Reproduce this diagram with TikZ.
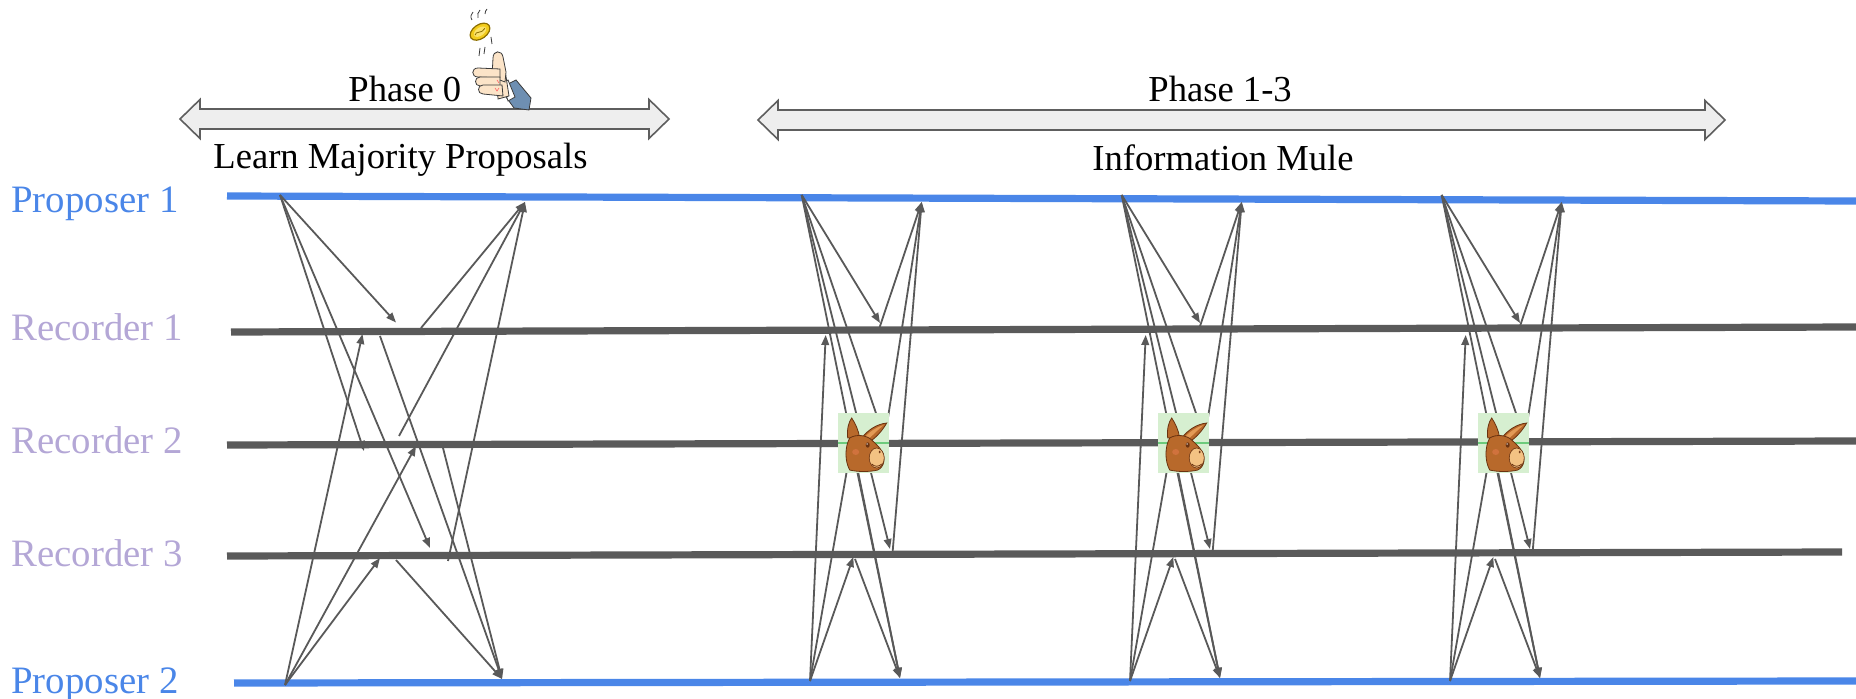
\documentclass[tikz,border=0pt]{standalone}
\usepackage{fontspec}
\setmainfont{Liberation Serif}
\usetikzlibrary{arrows.meta}

\definecolor{propblue}{HTML}{4A86E8}
\definecolor{reclav}{HTML}{B4A7D6}
\definecolor{lanegrey}{HTML}{5A5A5A}
\definecolor{msggrey}{HTML}{595959}
\definecolor{bandfill}{HTML}{EEEEEE}
\definecolor{bandedge}{HTML}{5E5E5E}
\definecolor{mulebg}{HTML}{D6EFD0}
\definecolor{muleline}{HTML}{6CCB7C}
\definecolor{mulehead}{HTML}{B8692B}
\definecolor{muledark}{HTML}{6A3210}
\definecolor{mulesnout}{HTML}{F3C283}
\definecolor{muleear}{HTML}{E39A55}
\definecolor{mulecheek}{HTML}{E0784A}
\definecolor{skin}{HTML}{FCE4C8}
\definecolor{sleeve}{HTML}{6E8FB2}
\definecolor{coingold}{HTML}{F2CC1C}
\definecolor{coinlight}{HTML}{FBE36A}
\definecolor{coinedge}{HTML}{8C6E00}
\definecolor{inkdark}{HTML}{3A3A3A}

% double-headed phase arrow: left tip x, right tip x, centre y
\newcommand{\phaseband}[3]{%
  \filldraw[band] (#1,#3) -- (#1+20,#3-19.5) -- (#1+20,#3-10) -- (#2-20,#3-10)
    -- (#2-20,#3-19.5) -- (#2,#3) -- (#2-20,#3+19.5) -- (#2-20,#3+10)
    -- (#1+20,#3+10) -- (#1+20,#3+19.5) -- cycle;}

\tikzset{
  mule/.pic={
    \fill[mulebg] (-25.3,-30) rectangle (25.3,30);
    \draw[muleline, line width=1.3pt] (-25.3,0) -- (25.3,0);
    % far ear
    \filldraw[fill=mulehead, draw=muledark, line width=0.4pt]
      (-16,-5) .. controls (-17,-14) and (-15,-21) .. (-12,-25)
      .. controls (-8,-19) and (-5,-12) .. (-4,-5) -- cycle;
    % near ear
    \filldraw[fill=mulehead, draw=muledark, line width=0.4pt]
      (-2,-5) .. controls (5,-14) and (14,-19) .. (23,-20)
      .. controls (19,-13) and (13,-6) .. (7,-2) -- cycle;
    \fill[muleear] (1,-6) .. controls (7,-12) and (13,-16) .. (20,-18)
      .. controls (14,-13) and (9,-8) .. (5,-4) -- cycle;
    % head
    \filldraw[fill=mulehead, draw=muledark, line width=0.4pt]
      (-14,27) .. controls (-19,18) and (-19,4) .. (-14,-5)
      .. controls (-8,-9) and (3,-8) .. (8,-3)
      .. controls (11,0) and (15,3) .. (18,8)
      .. controls (22,14) and (21,24) .. (14,27)
      .. controls (6,29) and (-6,29) .. cycle;
    % snout
    \filldraw[fill=mulesnout, draw=muledark, line width=0.3pt] (13,15) ellipse (7.5 and 10);
    \fill[mulecheek, opacity=0.6] (-8,9) ellipse (3.5 and 3);
    \fill[muledark] (4,2) ellipse (2 and 2.7);
    \fill[white] (3.4,1) circle (0.7);
    \fill[muledark] (16,9) ellipse (1 and 1.4);
    \draw[muledark, line width=0.4pt] (8,21) .. controls (11,24) and (15,24) .. (18,21);
  }
}

\begin{document}
\begin{tikzpicture}[x=0.5pt,y=-0.5pt,
  lane/.style={line width=3.6pt},
  msg/.style={draw=msggrey, line width=0.9pt, -{Triangle[length=5pt,width=3.8pt]}},
  band/.style={fill=bandfill, draw=bandedge, line width=0.8pt, line join=miter},
  lbl/.style={inner sep=0pt, anchor=base west, font=\fontsize{19.4}{22}\selectfont},
  ttl/.style={inner sep=0pt, anchor=base west, font=\fontsize{18.3}{21}\selectfont},
  ink/.style={draw=inkdark, line width=0.4pt}]
\useasboundingbox (0,0) rectangle (1856,699);

% phase bands and their captions
\phaseband{180}{669}{119}
\phaseband{758}{1725}{120}
\node[ttl] (ph0) at (348,102) {Phase 0};
\node[ttl] (ph0sub) at (213,169) {Learn Majority Proposals};
\node[ttl] (ph13) at (1148,102) {Phase 1-3};
\node[ttl] (ph13sub) at (1092,171) {Information Mule};

% process names
\node[lbl, text=propblue] (lblP1) at (11,213) {Proposer 1};
\node[lbl, text=reclav] (lblR1) at (11,341) {Recorder 1};
\node[lbl, text=reclav] (lblR2) at (11,454) {Recorder 2};
\node[lbl, text=reclav] (lblR3) at (11,566) {Recorder 3};
\node[lbl, text=propblue] (lblP2) at (11,693) {Proposer 2};

% timelines
\coordinate (p1L) at (227,196); \coordinate (p1R) at (1856,201);
\coordinate (r1L) at (231,332); \coordinate (r1R) at (1856,327);
\coordinate (r2L) at (227,445); \coordinate (r2R) at (1856,441);
\coordinate (r3L) at (227,556); \coordinate (r3R) at (1842,552);
\coordinate (p2L) at (234,683); \coordinate (p2R) at (1856,681);
\draw[lane, propblue] (p1L) -- (p1R);
\draw[lane, lanegrey] (r1L) -- (r1R);
\draw[lane, lanegrey] (r2L) -- (r2R);
\draw[lane, lanegrey] (r3L) -- (r3R);
\draw[lane, propblue] (p2L) -- (p2R);

% phase 0: proposals to all recorders, replies to both proposers
\coordinate (z-s1) at (280,195);
\coordinate (z-s2) at (285,685);
\coordinate (z-d1) at (525,202);
\coordinate (z-d2) at (502,679);
\coordinate (z-r1a) at (396,322.5);
\coordinate (z-r2a) at (364,451);
\coordinate (z-r3a) at (430,548);
\coordinate (z-r1b) at (362.5,334);
\coordinate (z-r2b) at (416,446);
\coordinate (z-r3b) at (380,558);
\coordinate (z-r1c) at (421,328);
\coordinate (z-r2c) at (399,436);
\coordinate (z-r3c) at (448,561);
\coordinate (z-r1d) at (380,336);
\coordinate (z-r2d) at (443,448);
\coordinate (z-r3d) at (396,560);
\draw[msg] (z-s1) -- (z-r1a);
\draw[msg] (z-s1) -- (z-r2a);
\draw[msg] (z-s1) -- (z-r3a);
\draw[msg] (z-s2) -- (z-r1b);
\draw[msg] (z-s2) -- (z-r2b);
\draw[msg] (z-s2) -- (z-r3b);
\draw[msg] (z-r1c) -- (z-d1);
\draw[msg] (z-r2c) -- (z-d1);
\draw[msg] (z-r3c) -- (z-d1);
\draw[msg] (z-r1d) -- (z-d2);
\draw[msg] (z-r2d) -- (z-d2);
\draw[msg] (z-r3d) -- (z-d2);

% phases 1-3: three rounds, recorder 2 acting as the mule
\foreach \s/\dx in {1/801.7, 2/1121.7, 3/1441.7} {
  \begin{scope}[shift={(\dx,0)}]
    \coordinate (m\s-s1) at (0,195);
    \coordinate (m\s-s2) at (8.3,681);
    \coordinate (m\s-d1) at (120,202);
    \coordinate (m\s-d2) at (98.3,678);
    \coordinate (m\s-r1a) at (78.3,323);
    \coordinate (m\s-r1c) at (78,327);
    \coordinate (m\s-r1b) at (24,335);
    \coordinate (m\s-r2a) at (80,430);
    \coordinate (m\s-r2b) at (50,443);
    \coordinate (m\s-r2c) at (82.3,443);
    \coordinate (m\s-r2d) at (50,445);
    \coordinate (m\s-r3a) at (88.3,549);
    \coordinate (m\s-r3c) at (91,551);
    \coordinate (m\s-r3b) at (51.6,557);
    \coordinate (m\s-r3d) at (53.3,559);
    \draw[msg] (m\s-s1) -- (m\s-r1a);
    \draw[msg] (m\s-s1) -- (m\s-r2a);
    \draw[msg] (m\s-s1) -- (m\s-r3a);
    \draw[msg] (m\s-s1) -- (m\s-d2);
    \draw[msg] (m\s-s2) -- (m\s-r1b);
    \draw[msg] (m\s-s2) -- (m\s-r2b);
    \draw[msg] (m\s-s2) -- (m\s-r3b);
    \draw[msg] (m\s-r1c) -- (m\s-d1);
    \draw[msg] (m\s-r2c) -- (m\s-d1);
    \draw[msg] (m\s-r3c) -- (m\s-d1);
    \draw[msg] (m\s-r2d) -- (m\s-d2);
    \draw[msg] (m\s-r3d) -- (m\s-d2);
    \pic (mule\s) at (62,443) {mule};
  \end{scope}
}

% coin-flipping hand next to "Phase 0"
\filldraw[fill=sleeve, ink] (508,84) -- (516,80) -- (531,98) -- (529,110) -- (514,108) -- (506,97) -- cycle;
\filldraw[fill=white, ink] (502,83) -- (508,80) -- (515,97) -- (508,101) -- cycle;
\filldraw[fill=skin, ink] (496,66) -- (505,70) -- (509,96) -- (498,99) -- cycle;
\filldraw[fill=skin, ink] (492,77) -- (493,58) .. controls (493,50) and (502,50) .. (503,57) -- (506,72) -- (505,82) -- cycle;
\filldraw[fill=skin, ink] (500,69) -- (478,68) .. controls (471,68) and (471,77) .. (478,77) -- (500,78) -- cycle;
\filldraw[fill=skin, ink] (500,77) -- (480,77) .. controls (474,77) and (474,86) .. (480,86) -- (500,86) -- cycle;
\filldraw[fill=skin, ink] (502,85) -- (483,85) .. controls (477,85) and (477,94) .. (483,94) -- (503,96) -- cycle;
\draw[red!60, line width=0.3pt] (495,88) -- (497,91) -- (499,88) (497,80) -- (499,83);
% coin and its motion strokes
\filldraw[fill=coingold, draw=coinedge, line width=0.6pt, rotate around={35:(480,31.7)}] (480,31.7) ellipse (11 and 7);
\fill[coinlight, rotate around={35:(480,31.7)}] (480,31.7) ellipse (7 and 4);
\draw[coinedge, line width=0.4pt, rotate around={35:(480,31.7)}] (474,31.7) .. controls (477,28) and (480,35) .. (486,31.7);
\draw[ink] (472,20) .. controls (470,17) and (471,14) .. (473,12);
\draw[ink] (478,18) .. controls (477,15) and (478,12) .. (480,10);
\draw[ink] (485,14) .. controls (485,12) and (486,10) .. (487,9);
\draw[ink] (491,37) -- (492,44);
\draw[ink] (480,48) -- (479,56);
\draw[ink] (485,47) -- (484,54);
\end{tikzpicture}
\end{document}
